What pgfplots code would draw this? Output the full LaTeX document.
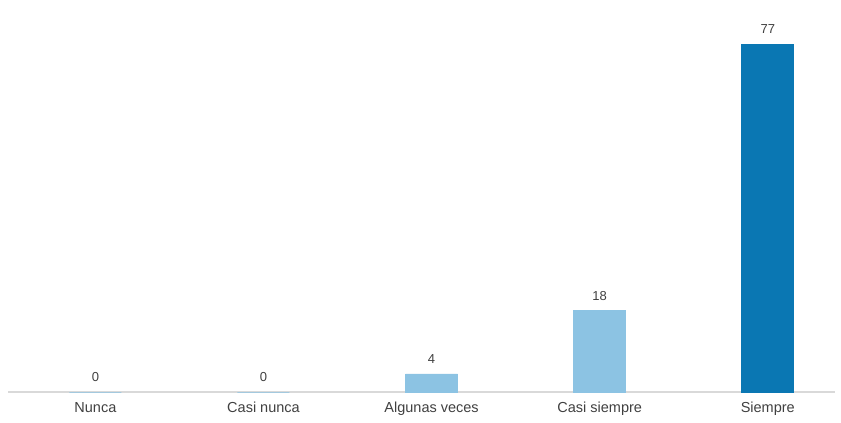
\documentclass[border=0pt]{standalone}
\usepackage{pgfplots}
\pgfplotsset{compat=1.18}
\usepackage{fontspec}
\setmainfont{Liberation Sans}
\definecolor{lightbar}{HTML}{8CC3E3}
\definecolor{darkbar}{HTML}{0A77B3}
\definecolor{baseline}{HTML}{D9D9D9}
\definecolor{txt}{HTML}{404040}
\begin{document}
\begin{tikzpicture}
\begin{axis}[
  scale only axis,
  width=827bp, height=361.6bp,
  xmin=-0.52, xmax=4.40,
  ymin=0, ymax=80,
  axis x line=bottom,
  axis y line=none,
  x axis line style={-, draw=baseline, line width=1.5bp},
  xtick={0,1,2,3,4},
  xticklabels={Nunca,Casi nunca,Algunas veces,Casi siempre,Siempre},
  major tick length=0pt,
  xticklabel style={font=\fontsize{14.5bp}{16bp}\selectfont, text=txt, inner sep=0pt, yshift=-10bp},
  ytick=\empty,
  ybar,
  bar width=52bp,
  /pgf/number format/assume math mode=true,
  nodes near coords,
  every node near coord/.append style={font=\fontsize{13bp}{15bp}\selectfont, text=txt, inner sep=0pt, anchor=south, yshift=10bp},
  clip=false,
]
\addplot[bar shift=0pt, fill=lightbar, draw=lightbar, line width=0.8bp] coordinates {(0,0) (1,0) (2,4) (3,18)};
\addplot[bar shift=0pt, fill=darkbar, draw=darkbar, line width=0.8bp] coordinates {(4,77)};
\end{axis}
\pgfresetboundingbox
\path[use as bounding box] (-8bp,-31bp) rectangle (833bp,392bp);
\end{tikzpicture}
\end{document}
